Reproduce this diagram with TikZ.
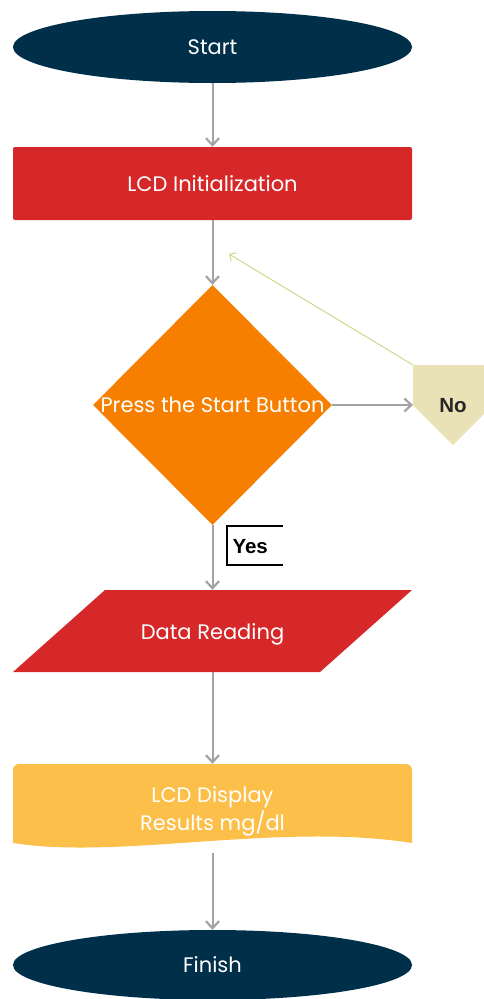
\documentclass[tikz,border=0pt]{standalone}
\usepackage{fontspec}
\setmainfont{Poppins}
\newfontfamily\labelfont{Liberation Sans}
\usetikzlibrary{shapes.geometric,arrows.meta}
\definecolor{navy}{HTML}{003049}
\definecolor{brick}{HTML}{D62828}
\definecolor{tangerine}{HTML}{F77F00}
\definecolor{saffron}{HTML}{FCBF49}
\definecolor{sand}{HTML}{EAE2B7}
\definecolor{flow}{HTML}{A3A3A3}
\definecolor{loopback}{HTML}{C4DA82}
\begin{document}
\begin{tikzpicture}[x=1pt,y=-1pt,
  every node/.style={font=\fontsize{21}{25}\selectfont, text=white},
  terminal/.style={ellipse, fill=navy, minimum width=399pt, minimum height=72pt, inner sep=0pt},
  process/.style={rectangle, fill=brick, rounded corners=2pt, minimum width=399pt, minimum height=73pt, inner sep=0pt},
  decision/.style={diamond, fill=tangerine, minimum width=239pt, minimum height=240pt, inner sep=0pt},
  flowarrow/.style={draw=flow, line width=2pt, -{Straight Barb[length=7pt,width=13pt,line width=2.2pt]}},
  tag/.style={font=\labelfont\bfseries\fontsize{20.5}{24}\selectfont}
]
\useasboundingbox (0,0) rectangle (483,999);

% start and first process
\node[terminal] (start) at (212.5,47) {Start};
\node[process] (init) at (212.5,183.5) {LCD Initialization};

% decision with its text on top
\node[decision] (ask) at (212.5,405) {};
\node at (ask.center) {Press the Start Button};

% off-page "No" connector
\fill[sand] (413,365) -- (493,365) -- (493,405) -- (453,445) -- (413,405) -- cycle;
\node[tag, text=black!85] (no) at (453,406) {No};
\coordinate (noin) at (413,405);
\coordinate (nocorner) at (413,365);
\coordinate (reentry) at (229,254);

% data input parallelogram
\fill[brick] (105,590) -- (412,590) -- (320,672) -- (13,672) -- cycle;
\node[minimum width=300pt, minimum height=82pt, inner sep=0pt] (read) at (212.5,631) {};
\node at (212.5,634) {Data Reading};

% display document shape with a wavy lower edge
\fill[saffron] (13,843) [rounded corners=6pt] -- (13,764) -- (412,764) [sharp corners] -- (412,843)
  .. controls (280,822) and (120,860) .. (13,843) -- cycle;
\node[minimum width=399pt, minimum height=84pt, inner sep=0pt] (show) at (212.5,806) {};
\node[align=center, font=\fontsize{21}{28}\selectfont] at (212.5,811) {LCD Display\\Results mg/dl};

% finish
\node[terminal, minimum height=70pt] (finish) at (212.5,965) {Finish};

% "Yes" label box
\node[tag, text=black, anchor=west] (yes) at (229,547) {Yes};
\draw[black, line width=1.6pt] (283,526) -- (227,526) -- (227,565) -- (283,565);

% connectors
\draw[flowarrow] (start.south) -- (init.north);
\draw[flowarrow] (init.south) -- (ask.north);
\draw[flowarrow] (ask.south) -- (read.north);
\draw[flowarrow] (ask.east) -- (noin);
\draw[flowarrow] (read.south) -- (show.north);
\draw[flowarrow] (show.south) ++(0,5) -- (finish.north);
\draw[loopback, line width=0.9pt, -{Straight Barb[length=5pt,width=10pt]}] (nocorner) -- (reentry);
\end{tikzpicture}
\end{document}
